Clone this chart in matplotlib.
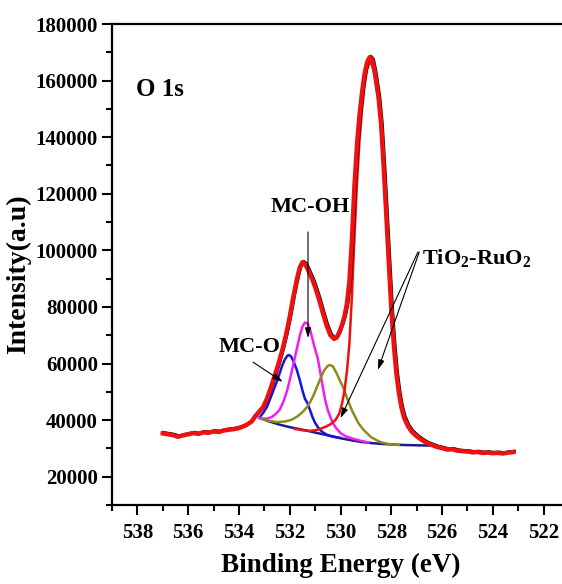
import matplotlib
matplotlib.use("Agg")
import matplotlib.pyplot as plt
import matplotlib.transforms as mtransforms
from matplotlib.ticker import MultipleLocator

plt.rcParams['font.family'] = ['Liberation Serif', 'DejaVu Serif']
plt.rcParams['font.weight'] = 'bold'
plt.rcParams['mathtext.fontset'] = 'custom'
plt.rcParams['mathtext.rm'] = 'Liberation Serif:bold'
plt.rcParams['mathtext.it'] = 'Liberation Serif:bold'
plt.rcParams['mathtext.bf'] = 'Liberation Serif:bold'

# Measured O 1s spectrum (binding energy in eV, counts)
data_energy = [537.0, 536.8, 536.6, 536.4, 536.2, 536.0, 535.8, 535.6, 535.4, 535.2,
               535.0, 534.8, 534.6, 534.4, 534.2, 534.0, 533.85, 533.7, 533.5, 533.35,
               533.2, 533.05, 532.9, 532.75, 532.6, 532.45, 532.3, 532.15, 532.0, 531.85,
               531.7, 531.6, 531.5, 531.4, 531.3, 531.2, 531.1, 531.0, 530.85, 530.7,
               530.55, 530.4, 530.25, 530.15, 530.05, 529.95, 529.85, 529.75, 529.65, 529.55,
               529.45, 529.35, 529.25, 529.15, 529.05, 528.95, 528.85, 528.75, 528.65, 528.5,
               528.4, 528.3, 528.2, 528.1, 528.0, 527.9, 527.8, 527.7, 527.6, 527.5,
               527.35, 527.2, 527.0, 526.8, 526.6, 526.4, 526.2, 526.0, 525.8, 525.6,
               525.4, 525.2, 525.0, 524.8, 524.6, 524.4, 524.2, 524.0, 523.8, 523.6,
               523.4, 523.2]
data_counts = [35300, 35000, 34700, 34100, 34600, 35000, 35400, 35100, 35700, 35500,
               36000, 35800, 36300, 36600, 36800, 37200, 37700, 38300, 39500, 41500,
               43000, 44600, 47500, 51300, 55500, 59700, 64500, 70000, 76500, 84000,
               90500, 94000, 95800, 95200, 93500, 91500, 89500, 87000, 82800, 78000,
               73500, 70000, 68700, 69200, 71000, 73500, 76500, 81000, 89000, 104000,
               123000, 137500, 148000, 156000, 162500, 166500, 168300, 167300, 163000, 154000,
               144500, 129500, 113000, 96000, 79500, 66500, 56500, 49500, 44500, 41000,
               38000, 36000, 34300, 33000, 31900, 31200, 30500, 30100, 29600, 29700,
               29200, 29000, 28900, 28600, 28700, 28400, 28500, 28300, 28400, 28200,
               28500, 28700]

# Shirley-type background
bg_energy = [533.2, 532.8, 532.4, 532.0, 531.6, 531.2, 530.8, 530.4, 530.0, 529.6,
             529.2, 528.8, 528.4, 528.0, 527.5, 527.0, 526.5]
bg_counts = [40800, 39500, 38400, 37500, 36800, 36000, 35200, 34400, 33600, 32900,
             32300, 31900, 31600, 31400, 31200, 31100, 31000]

# MC-O component
mco_energy = [533.2, 533.05, 532.9, 532.75, 532.6, 532.5, 532.4, 532.3, 532.2, 532.1,
              532.03, 531.95, 531.85, 531.72, 531.6, 531.5, 531.4, 531.3, 531.2, 531.1,
              531.0, 530.85, 530.7, 530.55, 530.4, 530.2, 530.0]
mco_counts = [40800, 42500, 44600, 48000, 51500, 53800, 56500, 59200, 61300, 62700,
              63000, 62500, 60800, 57700, 54000, 50500, 47500, 46000, 43500, 41000,
              39000, 37000, 35700, 34900, 34400, 34000, 33700]

# MC-OH component
mcoh_energy = [533.2, 533.1, 532.9, 532.7, 532.55, 532.4, 532.25, 532.1, 531.95, 531.8,
               531.7, 531.6, 531.5, 531.4, 531.3, 531.2, 531.1, 531.0, 530.9, 530.8,
               530.7, 530.6, 530.5, 530.4, 530.3, 530.2, 530.0, 529.8, 529.5, 529.2,
               528.9]
mcoh_counts = [40800, 40600, 40500, 41100, 42200, 43600, 46500, 50500, 56000, 62000,
               66000, 70000, 73000, 74500, 74200, 72000, 68500, 65000, 62000, 57000,
               51700, 47000, 43500, 41100, 39000, 37500, 35400, 34300, 33400, 32700,
               32100]

# TiO2-RuO2 component (530.4 eV)
tio_energy = [533.1, 532.8, 532.5, 532.2, 532.0, 531.87, 531.7, 531.5, 531.32, 531.2,
              531.05, 530.93, 530.8, 530.65, 530.5, 530.42, 530.3, 530.15, 530.0, 529.9,
              529.75, 529.6, 529.5, 529.3, 529.1, 528.96, 528.8, 528.6, 528.45, 528.2,
              528.0, 527.7]
tio_counts = [40400, 39700, 39300, 39500, 39900, 40400, 41300, 42800, 44600, 46300,
              49000, 51700, 54500, 57500, 59200, 59500, 59000, 56500, 53500, 51700,
              48000, 44500, 42500, 39000, 36600, 35400, 34000, 33000, 32300, 31700,
              31400, 31200]

# TiO2-RuO2 component (528.8 eV)
lat_energy = [531.8, 531.5, 531.2, 531.0, 530.8, 530.6, 530.4, 530.2, 530.05, 529.95,
              529.85, 529.75, 529.65, 529.55, 529.45, 529.35, 529.25, 529.15, 529.05, 528.95,
              528.85, 528.75, 528.65, 528.5, 528.4, 528.3, 528.2, 528.1, 528.0, 527.9,
              527.8, 527.7, 527.6, 527.5, 527.35, 527.2, 527.0, 526.8, 526.6, 526.5]
lat_counts = [36900, 36400, 36200, 36400, 36900, 37600, 38500, 40000, 42300, 45500,
              50000, 57000, 67000, 84000, 105000, 124000, 139000, 150000, 158500, 164000,
              166500, 165500, 161500, 152500, 143000, 128000, 111500, 94500, 78500, 65500,
              55500, 49000, 44000, 40500, 37600, 35600, 34000, 32800, 31800, 31400]

x_ticks = [538, 536, 534, 532, 530, 528, 526, 524, 522]
y_ticks = [20000, 40000, 60000, 80000, 100000, 120000, 140000, 160000, 180000]

fig = plt.figure(figsize=(5.62, 5.84), dpi=100)
ax = fig.add_axes([0.1993, 0.1353, 0.8132, 0.8236])

ax.plot(bg_energy, bg_counts, color='#1c1c8c', lw=1.8, zorder=2)
ax.plot(mco_energy, mco_counts, color='#1414e0', lw=1.8, zorder=3)
ax.plot(mcoh_energy, mcoh_counts, color='#f01ef0', lw=1.8, zorder=3)
ax.plot(tio_energy, tio_counts, color='#8c8c1e', lw=1.8, zorder=3)
ax.plot(lat_energy, lat_counts, color='#f01010', lw=1.8, zorder=3)

# envelope: black fit trace slightly offset under the red measured trace
shift = mtransforms.offset_copy(ax.transData, fig=fig, x=0.8, y=0.6, units='points')
ax.plot(data_energy, data_counts, color='black', lw=2.2, zorder=4, transform=shift)
ax.plot(data_energy, data_counts, color='#ee1111', lw=3.2, zorder=5)

ax.set_xlim(539, 521)
ax.set_ylim(10000, 180000)
ax.set_xticks(x_ticks)
ax.set_yticks(y_ticks)
ax.xaxis.set_minor_locator(MultipleLocator(1))
ax.yaxis.set_minor_locator(MultipleLocator(10000))
ax.tick_params(axis='both', which='major', direction='out', length=7, width=1.5,
               labelsize=15, pad=3)
ax.tick_params(axis='both', which='minor', direction='out', length=4, width=1.5)
ax.tick_params(axis='x', which='major', pad=6)
for lab in ax.get_xticklabels() + ax.get_yticklabels():
    lab.set_fontweight('bold')

for side in ('left', 'top', 'bottom'):
    ax.spines[side].set_linewidth(1.6)
ax.spines['right'].set_visible(False)

ax.set_xlabel('Binding Energy (eV)', fontsize=19.5, fontweight='bold', labelpad=7)
ax.set_ylabel('Intensity(a.u)', fontsize=20, fontweight='bold')
ax.yaxis.set_label_coords(-0.176, 0.48)

ax.text(537.11, 157000, 'O 1s', fontsize=18, fontweight='bold', ha='center', va='center')

arrow = dict(arrowstyle='-|>,head_length=0.6,head_width=0.18', color='black', lw=0.8,
             shrinkA=0, shrinkB=0)
ax.annotate('', xy=(531.28, 69000), xytext=(531.28, 106500), arrowprops=arrow, zorder=6)
ax.text(531.2, 115300, 'MC-OH', fontsize=16, fontweight='bold', ha='center', va='center')

ax.annotate('', xy=(532.27, 53500), xytext=(533.45, 60500), arrowprops=arrow, zorder=6)
ax.text(533.6, 65800, 'MC-O', fontsize=16, fontweight='bold', ha='center', va='center')

ax.annotate('', xy=(530.0, 40700), xytext=(526.95, 99400), arrowprops=arrow, zorder=6)
ax.annotate('', xy=(528.53, 57700), xytext=(526.9, 99400), arrowprops=arrow, zorder=6)
ax.text(524.63, 97300, 'TiO$_2$-RuO$_2$', fontsize=16, fontweight='bold',
        ha='center', va='center')

fig.savefig('out.png', dpi=100)
